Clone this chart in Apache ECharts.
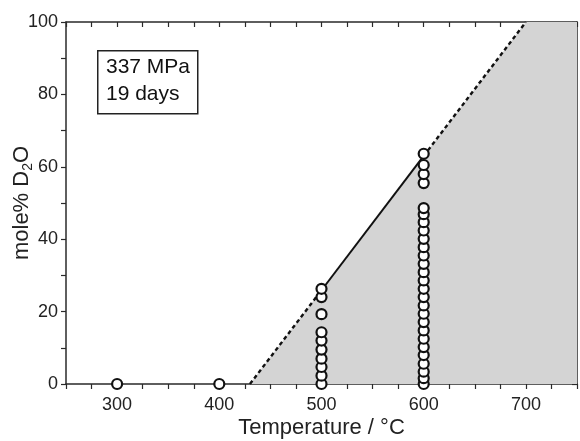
<!DOCTYPE html>
<html>
<head>
<meta charset="utf-8">
<script src="https://cdn.jsdelivr.net/npm/echarts@6/dist/echarts.min.js"></script>
<style>
html,body{margin:0;padding:0;background:#fff;}
#c{width:580px;height:441px;}
</style>
</head>
<body>
<div id="c"></div>
<script>
// Data
var vals300 = [0];
var vals400 = [0];
var vals500 = [0, 2.3, 4.7, 7, 9.5, 12, 14.3, 19.3, 24, 26.3];
var vals600 = [0, 1.6, 3.4, 5.6, 8, 10.2, 12.5, 14.8, 17.1, 19.4, 21.7, 24, 26.3, 28.6, 30.9, 33.2, 35.5, 37.8, 40.1, 42.4, 44.7, 46.9, 48.6, 55.5, 58, 60.5, 63.6];
var boundaryStart = [430, 0];
var boundarySolidA = [500, 25.9];
var boundarySolidB = [600, 63];
var boundaryEnd = [700, 100];
var regionCorner = [750, 100];
var xTickLabels = [300, 400, 500, 600, 700];
var yTickLabels = [0, 20, 40, 60, 80, 100];
var boxText = ['337 MPa', '19 days'];

var points = [];
vals300.forEach(function (v) { points.push([300, v]); });
vals400.forEach(function (v) { points.push([400, v]); });
vals500.forEach(function (v) { points.push([500, v]); });
vals600.forEach(function (v) { points.push([600, v]); });

var FONT = 'Liberation Sans, Arial, sans-serif';
var AX = '#2a2a2a';

var chart = echarts.init(document.getElementById('c'), null, {renderer: 'canvas'});
chart.setOption({
  animation: false,
  backgroundColor: '#fff',
  grid: {left: 66, right: 3, top: 22, bottom: 57, containLabel: false, outerBoundsMode: 'none'},
  xAxis: [{
    type: 'value', min: 250, max: 750, interval: 25, position: 'bottom',
    axisLine: {show: true, onZero: false, lineStyle: {color: AX, width: 1.5}},
    axisTick: {show: true, inside: false, length: 5, lineStyle: {color: AX, width: 1.2}},
    splitLine: {show: false},
    axisLabel: {
      margin: 12, color: '#222', fontFamily: FONT, fontSize: 18,
      formatter: function (v) { return xTickLabels.indexOf(v) >= 0 ? String(v) : ''; }
    },
    name: 'Temperature / °C', nameLocation: 'middle', nameGap: 33, nameMoveOverlap: false,
    nameTextStyle: {color: '#222', fontFamily: FONT, fontSize: 22}
  }, {
    type: 'value', min: 250, max: 750, interval: 25, position: 'top',
    axisLine: {show: true, onZero: false, lineStyle: {color: AX, width: 1.5}},
    axisTick: {show: true, inside: true, length: 5, lineStyle: {color: AX, width: 1.2}},
    axisLabel: {show: false}, splitLine: {show: false}
  }],
  yAxis: [{
    type: 'value', min: 0, max: 100, interval: 10, position: 'left',
    axisLine: {show: true, onZero: false, lineStyle: {color: AX, width: 1.5}},
    axisTick: {show: true, inside: false, length: 5, lineStyle: {color: AX, width: 1.2}},
    splitLine: {show: false},
    axisLabel: {
      margin: 8, color: '#222', fontFamily: FONT, fontSize: 18,
      formatter: function (v) { return yTickLabels.indexOf(v) >= 0 ? String(v) : ''; }
    },
    name: '{a|mole% D}{s|2}{a|O}', nameLocation: 'middle', nameGap: 31, nameRotate: 90,
    nameMoveOverlap: false,
    nameTextStyle: {
      color: '#222', fontFamily: FONT, fontSize: 22,
      rich: {
        a: {fontFamily: FONT, fontSize: 22, color: '#222', lineHeight: 26},
        s: {fontFamily: FONT, fontSize: 14, color: '#222', lineHeight: 14, verticalAlign: 'bottom'}
      }
    }
  }, {
    type: 'value', min: 0, max: 100, interval: 10, position: 'right',
    axisLine: {show: true, onZero: false, lineStyle: {color: AX, width: 1.5}},
    axisTick: {show: true, inside: true, length: 5, lineStyle: {color: AX, width: 1.2}},
    axisLabel: {show: false}, splitLine: {show: false}
  }],
  series: [{
    type: 'line', name: 'region', z: 1,
    data: [boundaryStart, boundaryEnd, regionCorner],
    symbol: 'none', lineStyle: {width: 0, opacity: 0},
    areaStyle: {color: '#d4d4d4', opacity: 1, origin: 'start'}
  }, {
    type: 'line', z: 3, data: [boundaryStart, boundarySolidA], symbol: 'none',
    lineStyle: {color: '#111', width: 2.4, type: [4, 3]}
  }, {
    type: 'line', z: 3, data: [boundarySolidA, boundarySolidB], symbol: 'none',
    lineStyle: {color: '#111', width: 2}
  }, {
    type: 'line', z: 3, data: [boundarySolidB, boundaryEnd], symbol: 'none',
    lineStyle: {color: '#111', width: 2.4, type: [4, 3]}
  }, {
    type: 'scatter', z: 5, clip: false, data: points,
    symbol: 'circle', symbolSize: 10,
    itemStyle: {color: '#fff', borderColor: '#111', borderWidth: 2.2, opacity: 1}
  }],
  graphic: [{
    type: 'rect', left: 97, top: 50, z: 10,
    shape: {width: 100, height: 63},
    style: {fill: '#fff', stroke: '#222', lineWidth: 1.5}
  }, {
    type: 'text', left: 106, top: 54, z: 11,
    style: {text: boxText.join('\n'), fontFamily: FONT, fontSize: 21, lineHeight: 27, fill: '#111'}
  }]
});
</script>
</body>
</html>
